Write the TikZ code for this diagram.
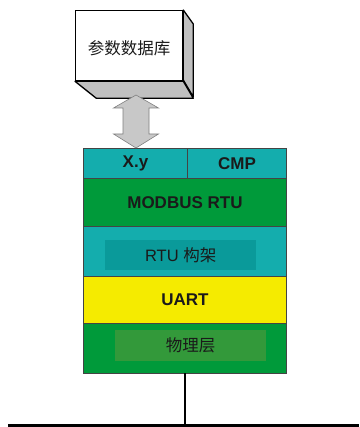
\documentclass[tikz,border=0pt]{standalone}
\usepackage{fontspec}
\setmainfont{Liberation Sans}
\newfontfamily\cjk{Noto Sans CJK SC}
\definecolor{teal1}{HTML}{14ADAD}
\definecolor{teal2}{HTML}{0A9A9A}
\definecolor{green1}{HTML}{009A3A}
\definecolor{green2}{HTML}{33993A}
\definecolor{yellow1}{HTML}{F5EB00}
\definecolor{txt}{HTML}{1A1A1A}
\definecolor{edge}{HTML}{444444}
\definecolor{boxgrey}{HTML}{C0C0C0}
\definecolor{arrowgrey}{HTML}{C8C8C8}
\tikzset{
  layer/.style={draw=edge, line width=0.9pt, anchor=north west, inner sep=0pt, text=txt},
  inner/.style={anchor=north west, inner sep=0pt, text=txt},
  boldlbl/.style={font=\fontsize{17}{19}\selectfont\bfseries},
}
\begin{document}
\begin{tikzpicture}[x=1pt,y=-1pt]
\useasboundingbox (0,0) rectangle (359,427);
% database 3D box
\node[draw=black, line width=1.3pt, fill=white, anchor=north west, minimum width=107pt, minimum height=70pt, inner sep=0pt] (db) at (75,10) {};
\node[font=\fontsize{16.5}{18}\selectfont\cjk, text=txt] (dblabel) at ([yshift=-3pt]db.center) {参数数据库};
\draw[line width=1.3pt, fill=boxgrey, line join=round] (db.north east) -- ++(10,14) -- ++(0,73) -- ++(-10,-17) -- cycle;
\draw[line width=1.3pt, fill=boxgrey, line join=round] (db.south west) -- (db.south east) -- ++(10,17) -- ++(-97,0) -- cycle;
% stack layers
\node[layer, fill=teal1, minimum width=104pt, minimum height=30pt, boldlbl] (xy) at (83,148) {X.y};
\node[layer, fill=teal1, minimum width=99pt, minimum height=30pt, boldlbl] (cmp) at (187,148) {CMP};
\node[layer, fill=green1, minimum width=203pt, minimum height=48pt, boldlbl] (modbus) at (83,178) {MODBUS RTU};
\node[layer, fill=teal1, minimum width=203pt, minimum height=50pt] (frame) at (83,226) {};
\node[inner, fill=teal2, minimum width=151pt, minimum height=30pt, font=\fontsize{16.5}{18}\selectfont] (frameinner) at (105,240) {RTU {\cjk 构架}};
\node[layer, fill=yellow1, minimum width=203pt, minimum height=47pt, boldlbl] (uart) at (83,276) {UART};
\node[layer, fill=green1, minimum width=203pt, minimum height=50pt] (phy) at (83,323) {};
\node[inner, fill=green2, minimum width=151pt, minimum height=31pt, font=\fontsize{16.5}{18}\selectfont\cjk] (phyinner) at (115,330) {物理层};
% double arrow between database and stack
\coordinate (atop) at (136,95);
\coordinate (abot) at (136,148);
\draw[draw=gray, fill=arrowgrey, line width=0.6pt, line join=miter]
  (atop) -- ++(22.5,13) -- ++(-9.5,0) -- ++(0,26) -- ++(9.5,0) -- (abot) -- ++(-22.5,-14) -- ++(9.5,0) -- ++(0,-26) -- ++(-9.5,0) -- cycle;
% bus
\coordinate (busL) at (8,425);
\coordinate (busR) at (359,425);
\coordinate (tap) at (185,373);
\draw[line width=3pt, black] (busL) -- (busR);
\draw[line width=2.5pt, black] (tap) -- (tap |- busL);
\end{tikzpicture}
\end{document}
